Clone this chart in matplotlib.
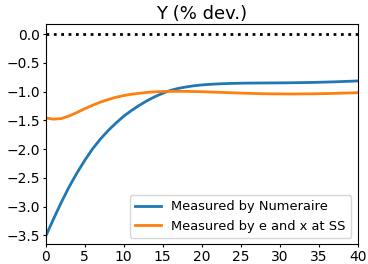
import numpy as np
import matplotlib
matplotlib.use("Agg")
import matplotlib.pyplot as plt

# horizon (periods)
periods = list(range(41))

# Y response measured by numeraire
y_numeraire = [
    -3.52, -3.22, -2.93, -2.66, -2.42, -2.20, -2.00, -1.83, -1.68, -1.55,
    -1.43, -1.33, -1.24, -1.16, -1.09, -1.03, -0.98, -0.945, -0.92, -0.90,
    -0.885, -0.875, -0.868, -0.862, -0.858, -0.855, -0.853, -0.852, -0.851, -0.850,
    -0.849, -0.848, -0.846, -0.844, -0.842, -0.839, -0.835, -0.831, -0.826, -0.821,
    -0.815,
]

# Y response measured by e and x at steady state
y_ess = [
    -1.46, -1.48, -1.47, -1.425, -1.365, -1.30, -1.24, -1.185, -1.14, -1.10,
    -1.07, -1.047, -1.03, -1.015, -1.005, -1.0, -0.997, -0.996, -0.997, -1.0,
    -1.003, -1.007, -1.012, -1.017, -1.022, -1.027, -1.031, -1.035, -1.038, -1.04,
    -1.041, -1.042, -1.042, -1.041, -1.04, -1.038, -1.035, -1.032, -1.028, -1.024,
    -1.02,
]

zero_line = [0.0] * len(periods)

fig = plt.figure(figsize=(3.68, 2.64), dpi=100)
ax = fig.add_axes([0.124, 0.074, 0.848, 0.834])

ax.plot(periods, zero_line, color="black", linestyle=":", linewidth=2)
ax.plot(periods, y_numeraire, color="#1f77b4", linewidth=2, label="Measured by Numeraire")
ax.plot(periods, y_ess, color="#ff7f0e", linewidth=2, label="Measured by e and x at SS")

ax.set_xlim(0, 40)
ax.set_ylim(-3.66, 0.17)
ax.set_xticks(range(0, 41, 5))
ax.set_yticks(np.arange(-3.5, 0.01, 0.5))
ax.tick_params(labelsize=10, length=2.3, pad=2.0)
ax.set_title("Y (% dev.)", fontsize=13, pad=4)
ax.legend(loc="lower right", fontsize=9.4)

fig.savefig("out.png", dpi=100)
